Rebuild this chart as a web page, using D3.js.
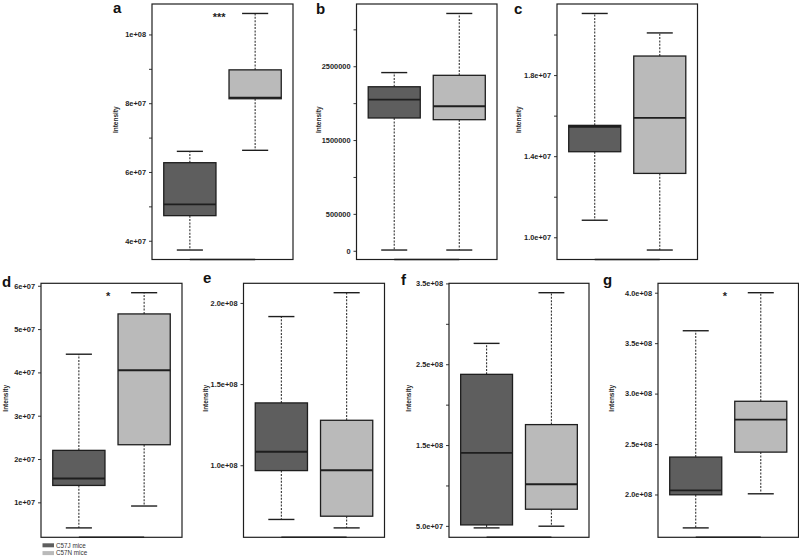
<!DOCTYPE html>
<html>
<head>
<meta charset="utf-8">
<script src="https://cdn.jsdelivr.net/npm/d3@7"></script>
<style>
  html, body { margin: 0; padding: 0; background: #fff; }
  svg { display: block; font-family: "Liberation Sans", Arial, sans-serif; }
</style>
</head>
<body>
<svg id="chart" width="799" height="558"></svg>
<script>
// ---------------- DATA ----------------
const panelIds = ["a", "b", "c", "d", "e", "f", "g"];
const groupNames = ["C57J mice", "C57N mice"];
const groupColors = ["#5e5e5e", "#bababa"];

// C57J mice (dark boxes): lower whisker, Q1, median, Q3, upper whisker
const c57jLow  = [3.73e7, 1e4,     1.084e7, 4.1e6,  6.66e7, 4.75e7, 1.669e8];
const c57jQ1   = [4.73e7, 1.799e6, 1.422e7, 1.39e7, 9.67e7, 5.12e7, 1.997e8];
const c57jMed  = [5.06e7, 2.049e6, 1.545e7, 1.55e7, 1.083e8, 1.402e8, 2.04e8];
const c57jQ3   = [6.27e7, 2.222e6, 1.552e7, 2.20e7, 1.384e8, 2.375e8, 2.371e8];
const c57jHigh = [6.6e7,  2.414e6, 2.104e7, 4.42e7, 1.916e8, 2.758e8, 3.623e8];

// C57N mice (light boxes)
const c57nLow  = [6.63e7, 1e4,     9.37e6,  9.15e6, 6.14e7, 4.96e7, 2.007e8];
const c57nQ1   = [8.13e7, 1.776e6, 1.315e7, 2.33e7, 6.86e7, 7.06e7, 2.42e8];
const c57nMed  = [8.16e7, 1.958e6, 1.589e7, 4.05e7, 9.69e7, 1.015e8, 2.742e8];
const c57nQ3   = [8.97e7, 2.377e6, 1.894e7, 5.35e7, 1.277e8, 1.753e8, 2.924e8];
const c57nHigh = [1.061e8, 3.215e6, 2.008e7, 5.84e7, 2.063e8, 3.385e8, 4.0e8];

const significance = ["***", "", "", "*", "", "", "*"];

// tick values and tick labels ("" = unlabeled tick)
const ticksA = [4e7, 5e7, 6e7, 7e7, 8e7, 9e7, 1e8];
const labelsA = ["4e+07", "", "6e+07", "", "8e+07", "", "1e+08"];
const ticksB = [0, 5e5, 1e6, 1.5e6, 2e6, 2.5e6, 3e6];
const labelsB = ["0", "500000", "", "1500000", "", "2500000", ""];
const ticksC = [1.0e7, 1.2e7, 1.4e7, 1.6e7, 1.8e7, 2.0e7];
const labelsC = ["1.0e+07", "", "1.4e+07", "", "1.8e+07", ""];
const ticksD = [1e7, 2e7, 3e7, 4e7, 5e7, 6e7];
const labelsD = ["1e+07", "2e+07", "3e+07", "4e+07", "5e+07", "6e+07"];
const ticksE = [1.0e8, 1.5e8, 2.0e8];
const labelsE = ["1.0e+08", "1.5e+08", "2.0e+08"];
const ticksF = [5e7, 1e8, 1.5e8, 2e8, 2.5e8, 3e8, 3.5e8];
const labelsF = ["5.0e+07", "", "1.5e+08", "", "2.5e+08", "", "3.5e+08"];
const ticksG = [2.0e8, 2.5e8, 3.0e8, 3.5e8, 4.0e8];
const labelsG = ["2.0e+08", "2.5e+08", "3.0e+08", "3.5e+08", "4.0e+08"];

const yLabel = "Intensity";

// ---------------- LAYOUT ----------------
const tickSets = [ticksA, ticksB, ticksC, ticksD, ticksE, ticksF, ticksG];
const labelSets = [labelsA, labelsB, labelsC, labelsD, labelsE, labelsF, labelsG];

const topRow = [4, 259.5], botRow = [283.3, 537.3];
const frames = [
  { x0: 152,   x1: 293,   y: topRow, lx: 113, ly: 13,  ylx: 118 },
  { x0: 356.5, x1: 497,   y: topRow, lx: 316, ly: 14,  ylx: 321 },
  { x0: 557,   x1: 697.5, y: topRow, lx: 514, ly: 14,  ylx: 521 },
  { x0: 41,    x1: 182,   y: botRow, lx: 2,   ly: 287, ylx: 8 },
  { x0: 243.5, x1: 384.5, y: botRow, lx: 203, ly: 283, ylx: 208 },
  { x0: 449,   x1: 589,   y: botRow, lx: 401, ly: 285, ylx: 411 },
  { x0: 658,   x1: 798.5, y: botRow, lx: 603, ly: 285, ylx: 614 }
];

const svg = d3.select("#chart");
const ink = "#1e1e1e";

panelIds.forEach((id, i) => {
  const f = frames[i];
  const stats = [
    { low: c57jLow[i], q1: c57jQ1[i], med: c57jMed[i], q3: c57jQ3[i], high: c57jHigh[i] },
    { low: c57nLow[i], q1: c57nQ1[i], med: c57nMed[i], q3: c57nQ3[i], high: c57nHigh[i] }
  ];
  const lo = d3.min(stats, s => s.low), hi = d3.max(stats, s => s.high);
  const pad = (hi - lo) * 0.04;
  const y = d3.scaleLinear().domain([lo - pad, hi + pad]).range([f.y[1], f.y[0]]);
  const x = d3.scaleLinear().domain([0.42, 2.58]).range([f.x0, f.x1]);
  const unit = x(2) - x(1);
  const bw = 0.8 * unit, cw = 0.4 * unit;

  const g = svg.append("g");

  // y axis (ticks + labels)
  const labels = labelSets[i];
  const ax = g.append("g")
    .attr("transform", `translate(${f.x0},0)`)
    .call(d3.axisLeft(y).tickValues(tickSets[i]).tickSize(3).tickPadding(3)
      .tickFormat((d, k) => labels[k]));
  ax.select(".domain").remove();
  ax.selectAll(".tick line").attr("stroke", ink).attr("stroke-width", 0.9);
  ax.selectAll(".tick text").attr("fill", ink).style("font-size", "7.4px")
    .style("font-weight", "bold").style("font-family", "'Liberation Sans', Arial, sans-serif");

  // y label
  g.append("text")
    .attr("transform", `translate(${f.ylx},${(f.y[0] + f.y[1]) / 2 - 12}) rotate(-90)`)
    .attr("text-anchor", "middle")
    .style("font-size", "6.5px").style("font-weight", "bold").attr("fill", ink)
    .text(yLabel);

  // boxes
  stats.forEach((s, k) => {
    const cx = x(k + 1);
    // whiskers
    g.append("line").attr("x1", cx).attr("x2", cx).attr("y1", y(s.q3)).attr("y2", y(s.high))
      .attr("stroke", "#333").attr("stroke-width", 1.1).attr("stroke-dasharray", "2,1.4");
    g.append("line").attr("x1", cx).attr("x2", cx).attr("y1", y(s.q1)).attr("y2", y(s.low))
      .attr("stroke", "#333").attr("stroke-width", 1.1).attr("stroke-dasharray", "2,1.4");
    // caps
    [s.high, s.low].forEach(v => {
      g.append("line").attr("x1", cx - cw / 2).attr("x2", cx + cw / 2)
        .attr("y1", y(v)).attr("y2", y(v)).attr("stroke", ink).attr("stroke-width", 1.4);
    });
    // box
    g.append("rect").attr("x", cx - bw / 2).attr("width", bw)
      .attr("y", y(s.q3)).attr("height", y(s.q1) - y(s.q3))
      .attr("fill", groupColors[k]).attr("stroke", ink).attr("stroke-width", 1.3);
    // median
    g.append("line").attr("x1", cx - bw / 2).attr("x2", cx + bw / 2)
      .attr("y1", y(s.med)).attr("y2", y(s.med)).attr("stroke", ink).attr("stroke-width", 1.8);
  });

  // frame
  g.append("rect").attr("x", f.x0).attr("y", f.y[0])
    .attr("width", f.x1 - f.x0).attr("height", f.y[1] - f.y[0])
    .attr("fill", "none").attr("stroke", ink).attr("stroke-width", 1.2);
  // x axis segment (R draws axis between the groups)
  g.append("line").attr("x1", x(1)).attr("x2", x(2)).attr("y1", f.y[1]).attr("y2", f.y[1])
    .attr("stroke", ink).attr("stroke-width", 1.4);

  // significance
  if (significance[i]) {
    g.append("text").attr("x", x(1.45)).attr("y", f.y[0] + 17)
      .attr("text-anchor", "middle").style("font-size", "11px").style("font-weight", "bold")
      .attr("fill", ink).text(significance[i]);
  }

  // panel letter
  g.append("text").attr("x", f.lx).attr("y", f.ly)
    .style("font-size", "15px").style("font-weight", "bold").attr("fill", "#111")
    .text(id);
});

// legend
const leg = svg.append("g");
groupNames.forEach((name, k) => {
  const yy = 543.3 + k * 7.8;
  leg.append("rect").attr("x", 42.5).attr("y", yy).attr("width", 11.5).attr("height", 4)
    .attr("fill", groupColors[k]);
  leg.append("text").attr("x", 56).attr("y", yy + 4.2)
    .style("font-size", "6.3px").attr("fill", "#333").text(name);
});
</script>
</body>
</html>
